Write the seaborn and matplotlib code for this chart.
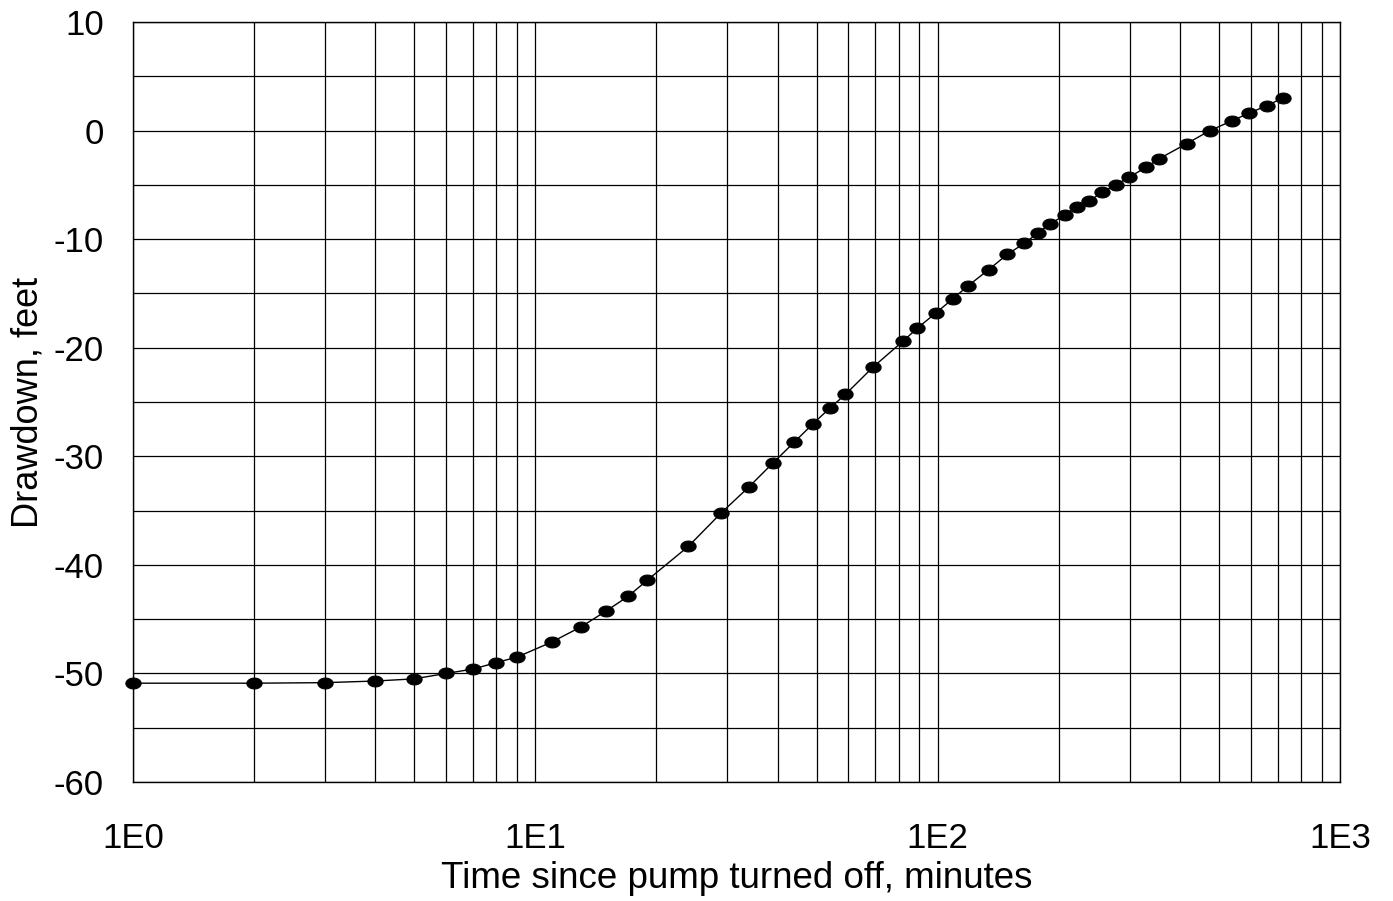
import numpy as np
import pandas as pd
import matplotlib
matplotlib.use("Agg")
import matplotlib.pyplot as plt
import seaborn as sns
from matplotlib.path import Path
from matplotlib.ticker import FixedLocator, NullFormatter

# Data
time_min = [1, 2, 3, 4, 5, 6, 7, 8, 9, 11, 13, 15, 17, 19, 24, 29, 34, 39, 44, 49,
            54, 59, 69, 82, 89, 99, 109, 119, 134, 149, 164, 178, 190, 207, 222,
            238, 256, 277, 299, 329, 355, 416, 475, 539, 594, 658, 721]
drawdown_ft = [-50.9, -50.9, -50.85, -50.7, -50.5, -50.0, -49.6, -49.0, -48.5, -47.1,
               -45.7, -44.25, -42.9, -41.4, -38.3, -35.2, -32.8, -30.6, -28.7, -27.0,
               -25.55, -24.3, -21.8, -19.4, -18.2, -16.8, -15.5, -14.3, -12.8, -11.4,
               -10.4, -9.4, -8.6, -7.8, -7.0, -6.5, -5.7, -5.0, -4.3, -3.4,
               -2.6, -1.2, 0.0, 0.9, 1.6, 2.3, 3.0]
x_tick_values = [1, 10, 100, 1000]
x_tick_labels = ["1E0", "1E1", "1E2", "1E3"]
y_tick_values = [10, 0, -10, -20, -30, -40, -50, -60]

df = pd.DataFrame({"t": time_min, "s": drawdown_ft})

sns.set_style("white")
plt.rcParams['font.family'] = ['Liberation Sans', 'DejaVu Sans']
plt.rcParams['axes.unicode_minus'] = False

fig = plt.figure(figsize=(13.93, 9.01), dpi=100)
ax = fig.add_axes([133/1393, 1 - 782/901, (1340 - 133)/1393, (782 - 22)/901])

# ellipse marker (wider than tall)
th = np.linspace(0, 2*np.pi, 60)
ell = Path(np.column_stack([1.4*np.cos(th), np.sin(th)]), closed=True)

sns.lineplot(data=df, x="t", y="s", ax=ax, color="black", linewidth=1.0,
             marker=ell, markersize=11, markerfacecolor="black",
             markeredgecolor="black", clip_on=False, zorder=5)

ax.set_xscale("log")
ax.set_xlim(1, 1000)
ax.set_ylim(-60, 10)

ax.xaxis.set_major_locator(FixedLocator(x_tick_values))
ax.set_xticklabels(x_tick_labels)
minor_x = [m * d for d in [1, 10, 100] for m in range(2, 10)]
ax.xaxis.set_minor_locator(FixedLocator(minor_x))
ax.xaxis.set_minor_formatter(NullFormatter())
ax.yaxis.set_major_locator(FixedLocator(y_tick_values))
ax.yaxis.set_minor_locator(FixedLocator([5, -5, -15, -25, -35, -45, -55]))

ax.grid(True, which="both", color="black", linewidth=0.9)
ax.set_axisbelow(True)
for s in ax.spines.values():
    s.set_color("black")
    s.set_linewidth(1.0)

ax.tick_params(axis="both", which="both", direction="out", length=9, width=0.9,
               color="black", labelsize=25, labelcolor="black")
ax.tick_params(axis="x", which="major", pad=20)
ax.tick_params(axis="y", which="major", pad=12)

ax.set_xlabel("Time since pump turned off, minutes", fontsize=26.5, color="black", labelpad=4)
ax.set_ylabel("Drawdown, feet", fontsize=26, color="black", labelpad=6)

fig.savefig("out.png", dpi=100, facecolor="white")
